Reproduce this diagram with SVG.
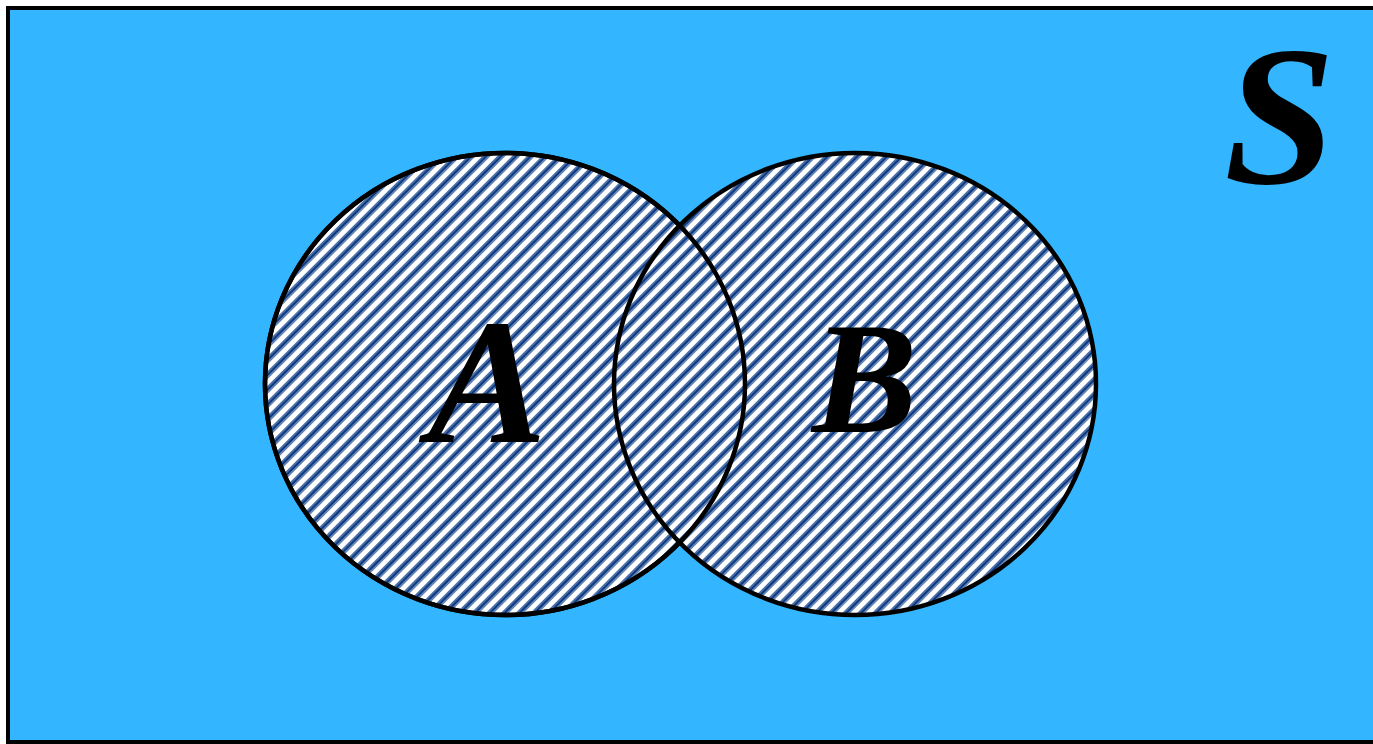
<svg xmlns="http://www.w3.org/2000/svg" width="1373" height="744" viewBox="0 0 1373 744">
  <style>
    .set { fill: url(#hatch); stroke: #000; stroke-width: 4.5; }
    .lbl { font-family: "Liberation Serif", "DejaVu Serif", serif; font-style: italic; font-weight: bold; fill: #000; }
  </style>
  <defs>
    <pattern id="hatch" patternUnits="userSpaceOnUse" width="10.5" height="10.5" patternTransform="rotate(45)">
      <rect width="10.5" height="10.5" fill="#ffffff"/>
      <rect x="0" y="0" width="1.3" height="10.5" fill="#4a6fa8"/>
      <rect x="1.3" y="0" width="3" height="10.5" fill="#0c3a82"/>
      <rect x="4.3" y="0" width="1.3" height="10.5" fill="#4a6fa8"/>
    </pattern>
  </defs>
  <rect width="1373" height="744" fill="#ffffff"/>
  <g id="universe">
    <rect x="8" y="8" width="1380" height="734" fill="#33b5ff" stroke="#000" stroke-width="4"/>
    <text class="lbl" x="1224" y="183" font-size="200">S</text>
  </g>
  <g id="setA">
    <ellipse class="set" cx="505" cy="384" rx="240" ry="231"/>
  </g>
  <g id="setB">
    <ellipse class="set" cx="855" cy="384" rx="241" ry="231"/>
  </g>
  <g id="outlines" fill="none" stroke="#000" stroke-width="4.5">
    <ellipse cx="505" cy="384" rx="240" ry="231"/>
  </g>
  <g id="labels">
    <text class="lbl" x="428" y="442" font-size="178">A</text>
    <text class="lbl" x="812" y="432" font-size="158">B</text>
  </g>
</svg>
